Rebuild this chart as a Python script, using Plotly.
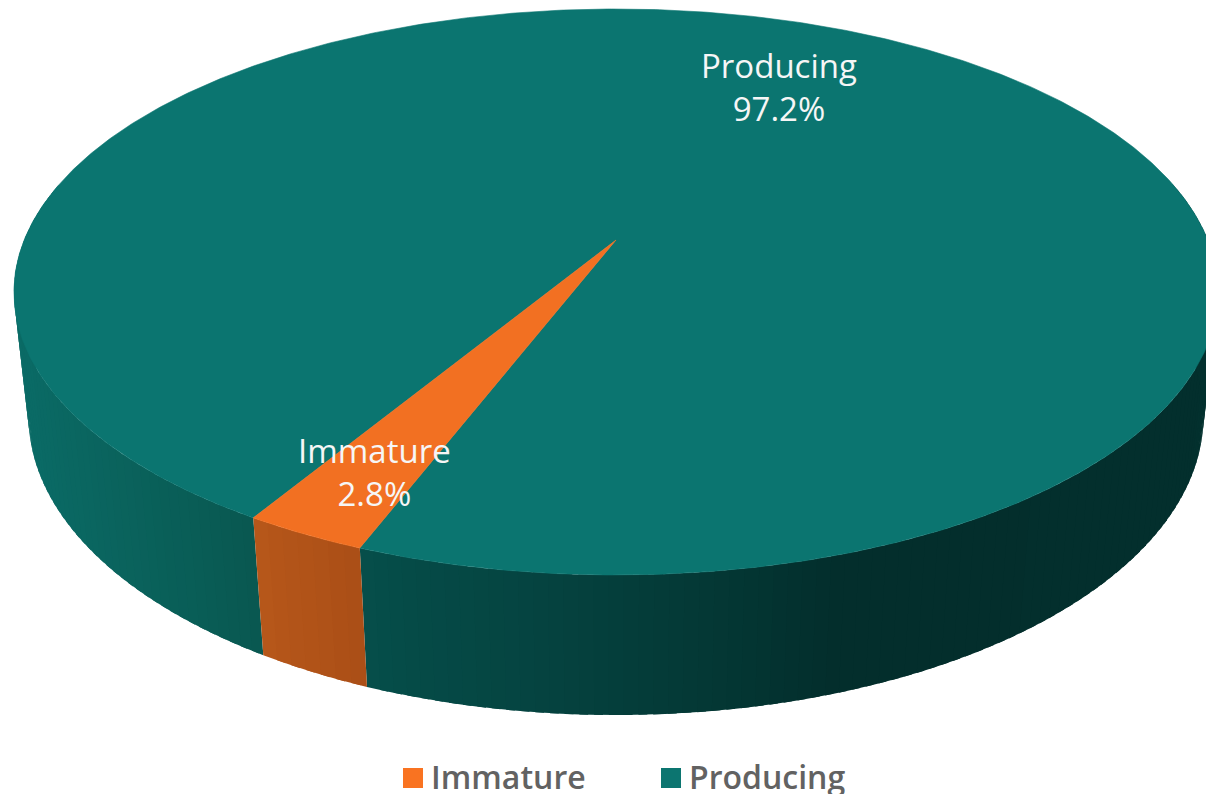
import numpy as np
import plotly.graph_objects as go

categories = ["Immature", "Producing"]
shares = [2.8, 97.2]
top_colors = ["#F27022", "#0B7570"]
legend_colors = ["#F97321", "#0C7570"]

W, H = 1206, 794
CX, A, K = 616.0, 591.8, -0.1837
C, D = 229.35, 240.0
M, N = 0.024, 131.5
START = np.radians(-31.1)  # angle of the first slice's leading edge


def project(theta, h):
    u, v = np.sin(theta), np.cos(theta)
    w = 1 + K * v + M * h
    return CX + A * u / w, (C * v + D + N * h) / w


def hex2rgb(s):
    return np.array([int(s[i:i + 2], 16) for i in (1, 3, 5)], float)


def ramp(x, xs, cols):
    rgb = [np.interp(x, xs, [hex2rgb(c)[i] for c in cols]) for i in range(3)]
    return "rgb(%d,%d,%d)" % tuple(rgb)


TEAL_X = [20, 260, 368, 600, 850, 1206]
TEAL_C = ["#0B6B66", "#095850", "#064E4A", "#05403D", "#032E2C", "#03302E"]
ORANGE_X = [262, 360]
ORANGE_C = ["#B6571A", "#AB4F17"]

sweep = [s / sum(shares) * 2 * np.pi for s in shares]
edges = [(START, START + sweep[0]), (START + sweep[0], START + 2 * np.pi)]

fig = go.Figure()


def poly(x, y, color, width=0.0):
    fig.add_trace(go.Scatter(
        x=x, y=y, mode="lines", fill="toself", fillcolor=color,
        line=dict(color=color, width=width),
        hoverinfo="skip", showlegend=False))


def wall(a0, a1, step, xs, cols):
    n = max(2, int((a1 - a0) / step))
    ts = np.linspace(a0, a1, n + 1)
    d = ts[1] - ts[0]
    for i, (t0, t1) in enumerate(zip(ts[:-1], ts[1:])):
        if np.cos((t0 + t1) / 2) < -0.2:
            continue
        tail = t1 + 0.6 * d if i < n - 1 else t1  # overlap the next strip
        tt = np.linspace(t0, tail, 5)
        x0, y0 = project(tt, 0.0)
        x1, y1 = project(tt[::-1], 1.0)
        poly(np.r_[x0, x1, x0[0]], np.r_[y0, y1, y0[0]],
             ramp(float(project((t0 + t1) / 2, 0.0)[0]), xs, cols))


# outer wall, split into shaded strips (front part only)
wall(edges[1][0], edges[1][1], np.radians(1.2), TEAL_X, TEAL_C)
wall(edges[0][0], edges[0][1], np.radians(1.4), ORANGE_X, ORANGE_C)

# top faces
for idx in (1, 0):
    a0, a1 = edges[idx]
    tt = np.linspace(a0, a1, max(8, int((a1 - a0) / np.radians(0.5))))
    x, y = project(tt, 0.0)
    poly(np.r_[CX, x, CX], np.r_[D, y, D], top_colors[idx], width=0.6)

# legend swatches and their text
LEG_X = [413, 671]
LEG_Y = 778
fig.add_trace(go.Scatter(
    x=LEG_X, y=[LEG_Y, LEG_Y], mode="markers", hoverinfo="skip", showlegend=False,
    marker=dict(symbol="square", size=20, color=legend_colors, line=dict(width=0))))
for name, lx in zip(categories, LEG_X):
    fig.add_annotation(
        x=lx + 16, y=LEG_Y - 2, xref="x", yref="y", showarrow=False,
        xanchor="left", yanchor="middle", text=name,
        font=dict(family="Open Sans", size=32, color="#626262", weight=600))

LABEL_POS = [(374.5, 472), (778.5, 86.5)]
for name, val, (lx, ly) in zip(categories, shares, LABEL_POS):
    fig.add_annotation(
        x=lx, y=ly, xref="x", yref="y", showarrow=False,
        text=f"{name}<br>{val}%", align="center",
        font=dict(family="Open Sans", size=33, color="#F6F6F6", weight=500))

fig.update_layout(
    width=W, height=H, margin=dict(l=0, r=0, t=0, b=0),
    paper_bgcolor="white", plot_bgcolor="white",
    xaxis=dict(range=[0, W], visible=False, fixedrange=True),
    yaxis=dict(range=[H, 0], visible=False, fixedrange=True),
    font=dict(family="Open Sans"),
    showlegend=False,
)
fig.write_html("out.html", config={"displayModeBar": False},
               post_script="document.body.style.margin='0';document.body.style.overflow='hidden';")
